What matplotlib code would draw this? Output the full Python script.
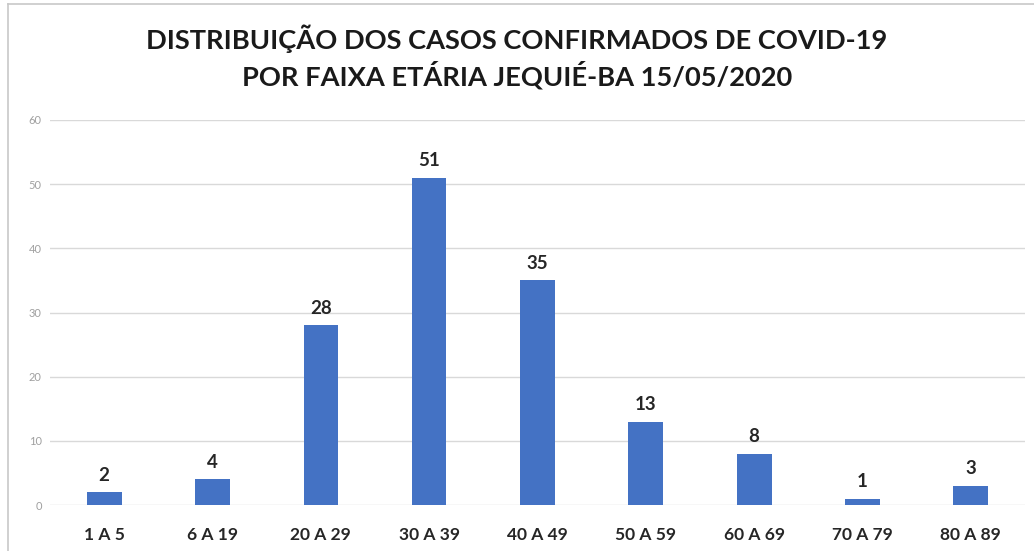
import numpy as np
import matplotlib
matplotlib.use("Agg")
import matplotlib.pyplot as plt
from matplotlib.lines import Line2D

faixas = ["1 A 5", "6 A 19", "20 A 29", "30 A 39", "40 A 49", "50 A 59", "60 A 69", "70 A 79", "80 A 89"]
casos = [2, 4, 28, 51, 35, 13, 8, 1, 3]
y_ticks = [0, 10, 20, 30, 40, 50, 60]

titulo = "DISTRIBUIÇÃO DOS CASOS CONFIRMADOS DE COVID-19\nPOR FAIXA ETÁRIA JEQUIÉ-BA 15/05/2020"


def main():
	plt.rcParams['font.family'] = ['Lato', 'DejaVu Sans']

	W, H = 1034, 551
	fig = plt.figure(figsize=(W / 100, H / 100), dpi=100)
	fig.patch.set_facecolor("white")

	# plot area in pixels: x 50..1025, y 120..505
	ax = fig.add_axes([50 / W, (H - 505) / H, 975 / W, 385 / H])

	x = np.arange(len(faixas))
	bars = ax.bar(x, casos, width=0.32, color="#4472C4", zorder=3)

	for b, v in zip(bars, casos):
		ax.text(b.get_x() + b.get_width() / 2, v + 1.3, str(v), ha="center", va="bottom",
				fontsize=13.5, fontweight="bold", color="#262626")

	ax.set_xlim(-0.5, len(faixas) - 0.5)
	ax.set_ylim(0, 60)
	ax.set_yticks(y_ticks)
	ax.set_yticklabels([str(t) for t in y_ticks], fontsize=8, color="#a0a0a0")
	ax.set_xticks(x)
	ax.set_xticklabels(faixas, fontsize=12.5, fontweight="bold", color="#262626")
	ax.tick_params(axis="both", length=0)
	ax.tick_params(axis="x", pad=16)
	ax.tick_params(axis="y", pad=6)

	ax.grid(axis="y", color="#d9d9d9", linewidth=1, zorder=0)
	for s in ax.spines.values():
		s.set_visible(False)

	fig.text(517 / W, 1 - 57 / H, titulo, ha="center", va="center", fontsize=19.6,
			 fontweight="bold", color="#1a1a1a", linespacing=1.35)

	# frame of the chart object
	fig.add_artist(Line2D([8 / W, 1.0], [1 - 3.5 / H, 1 - 3.5 / H], color="#c8c8c8", linewidth=1.2))
	fig.add_artist(Line2D([8 / W, 8 / W], [0, 1 - 3.5 / H], color="#c8c8c8", linewidth=1.2))

	fig.savefig("out.png", dpi=100)


if __name__ == "__main__":
	main()
